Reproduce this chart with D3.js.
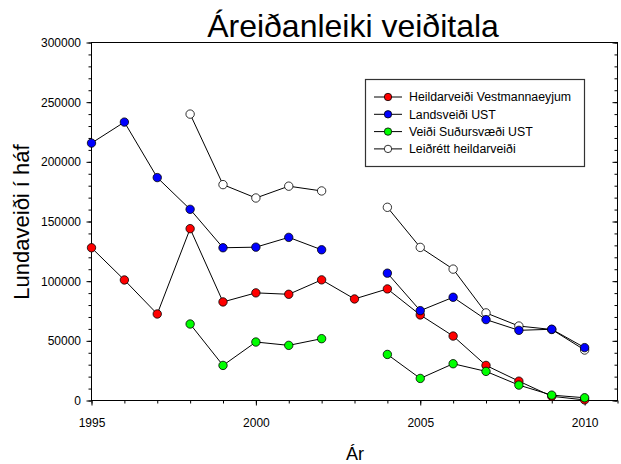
<!DOCTYPE html>
<html>
<head>
<meta charset="utf-8">
<script src="https://cdn.jsdelivr.net/npm/d3@7/dist/d3.min.js"></script>
<style>
  html, body { margin: 0; padding: 0; background: #fff; }
  svg { display: block; font-family: Arial, "Liberation Sans", sans-serif; }
</style>
</head>
<body>
<svg id="chart" width="621" height="464"></svg>
<script>
// ---- data ----
const years = [1995, 1996, 1997, 1998, 1999, 2000, 2001, 2002, 2003, 2004, 2005, 2006, 2007, 2008, 2009, 2010];
const heildarVestmannaeyjum = [128000, 101000, 72500, 144000, 82600, 90200, 89000, 101100, 85100, 93500, 71700, 54000, 29400, 16200, 3500, 500];
const landsveidiUST = [215700, 233300, 186800, 160200, 128000, 128500, 136700, 126300, null, 106700, 75300, 86500, 67800, 58800, 59700, 44300];
const veidiSudursvaedi = [null, null, null, 64100, 29400, 49000, 46200, 51800, null, 38600, 18500, 30800, 24400, 12900, 4500, 2300];
const leidrettHeildarveidi = [null, null, null, 240000, 180900, 169700, 179600, 175600, null, 161900, 128300, 110100, 73400, 62400, 59500, 42300];
const seriesNames = ["Heildarveiði Vestmannaeyjum", "Landsveiði UST", "Veiði Suðursvæði UST", "Leiðrétt heildarveiði"];
const seriesColors = ["#ff0000", "#0000ff", "#00ff00", "#ffffff"];
const xTickValues = [1995, 2000, 2005, 2010];
const yTickValues = [0, 50000, 100000, 150000, 200000, 250000, 300000];
const titleText = "Áreiðanleiki veiðitala";
const xLabel = "Ár";
const yLabel = "Lundaveiði í háf";

// ---- layout ----
const svg = d3.select("#chart");
const pL = 91.5, pR = 617.5, pT = 42.5, pB = 400.5;
const x = d3.scaleLinear().domain([1995, 2011]).range([pL, pR]);
const y = d3.scaleLinear().domain([0, 300000]).range([pB, pT]);

// title
svg.append("text").attr("x", 353).attr("y", 36.5)
  .attr("text-anchor", "middle").attr("font-size", 32).attr("fill", "#000").text(titleText);

// axis labels
svg.append("text").attr("x", 355).attr("y", 459.5)
  .attr("text-anchor", "middle").attr("font-size", 18).text(xLabel);
svg.append("text").attr("transform", `translate(28.5,222) rotate(-90)`)
  .attr("text-anchor", "middle").attr("font-size", 22).text(yLabel);

// axes
const xMinor = d3.range(1995, 2012, 1);
const yMinor = d3.range(0, 300001, 10000);

const gx = svg.append("g").attr("transform", `translate(0,${pB})`);
gx.call(d3.axisBottom(x).tickValues(xMinor).tickSize(3).tickFormat("").tickSizeOuter(0));
gx.select(".domain").remove();
const gxMaj = svg.append("g").attr("transform", `translate(0,${pB})`)
  .call(d3.axisBottom(x).tickValues(xTickValues).tickSize(5).tickPadding(12.5).tickFormat(d3.format("d")).tickSizeOuter(0));
gxMaj.select(".domain").remove();
gxMaj.selectAll("text").attr("font-size", 12).attr("font-family", "Arial, 'Liberation Sans', sans-serif");

const gy = svg.append("g").attr("transform", `translate(${pL},0)`);
gy.call(d3.axisLeft(y).tickValues(yMinor).tickSize(3).tickFormat("").tickSizeOuter(0));
gy.select(".domain").remove();
const gyMaj = svg.append("g").attr("transform", `translate(${pL},0)`)
  .call(d3.axisLeft(y).tickValues(yTickValues).tickSize(5).tickPadding(5.5).tickFormat(d3.format("d")).tickSizeOuter(0));
gyMaj.select(".domain").remove();
gyMaj.selectAll("text").attr("font-size", 12).attr("font-family", "Arial, 'Liberation Sans', sans-serif");

// right axis inward ticks
const gr = svg.append("g").attr("transform", `translate(${pR},0)`);
gr.call(d3.axisLeft(y).tickValues(yMinor).tickSize(3).tickFormat("").tickSizeOuter(0));
gr.select(".domain").remove();
const gr2 = svg.append("g").attr("transform", `translate(${pR},0)`);
gr2.call(d3.axisLeft(y).tickValues(yTickValues).tickSize(5).tickFormat("").tickSizeOuter(0));
gr2.select(".domain").remove();

// frame
svg.append("rect").attr("x", pL).attr("y", pT).attr("width", pR - pL).attr("height", pB - pT)
  .attr("fill", "none").attr("stroke", "#000").attr("stroke-width", 1);

// series
const allSeries = [heildarVestmannaeyjum, landsveidiUST, veidiSudursvaedi, leidrettHeildarveidi];
const drawOrder = [0, 3, 2, 1];
const line = d3.line().defined(d => d.v != null).x(d => x(d.yr)).y(d => y(d.v));
drawOrder.forEach(i => {
  const data = years.map((yr, k) => ({ yr, v: allSeries[i][k] }));
  svg.append("path").datum(data).attr("d", line)
    .attr("fill", "none").attr("stroke", "#000").attr("stroke-width", 1);
  svg.append("g").selectAll("circle").data(data.filter(d => d.v != null)).join("circle")
    .attr("cx", d => x(d.yr)).attr("cy", d => y(d.v)).attr("r", 4.2)
    .attr("fill", seriesColors[i]).attr("stroke", "#000").attr("stroke-width", 0.8);
});

// legend
const lg = svg.append("g");
lg.append("rect").attr("x", 365.5).attr("y", 79.5).attr("width", 219).attr("height", 87)
  .attr("fill", "#fff").attr("stroke", "#333").attr("stroke-width", 1.2);
seriesNames.forEach((name, i) => {
  const cy = 97 + i * 17.3;
  lg.append("line").attr("x1", 374).attr("x2", 402).attr("y1", cy).attr("y2", cy)
    .attr("stroke", "#000").attr("stroke-width", 1);
  lg.append("circle").attr("cx", 388).attr("cy", cy).attr("r", 3.7)
    .attr("fill", seriesColors[i]).attr("stroke", "#000").attr("stroke-width", 0.8);
  lg.append("text").attr("x", 409).attr("y", cy + 4.4).attr("font-size", 12.3).text(name);
});
</script>
</body>
</html>
